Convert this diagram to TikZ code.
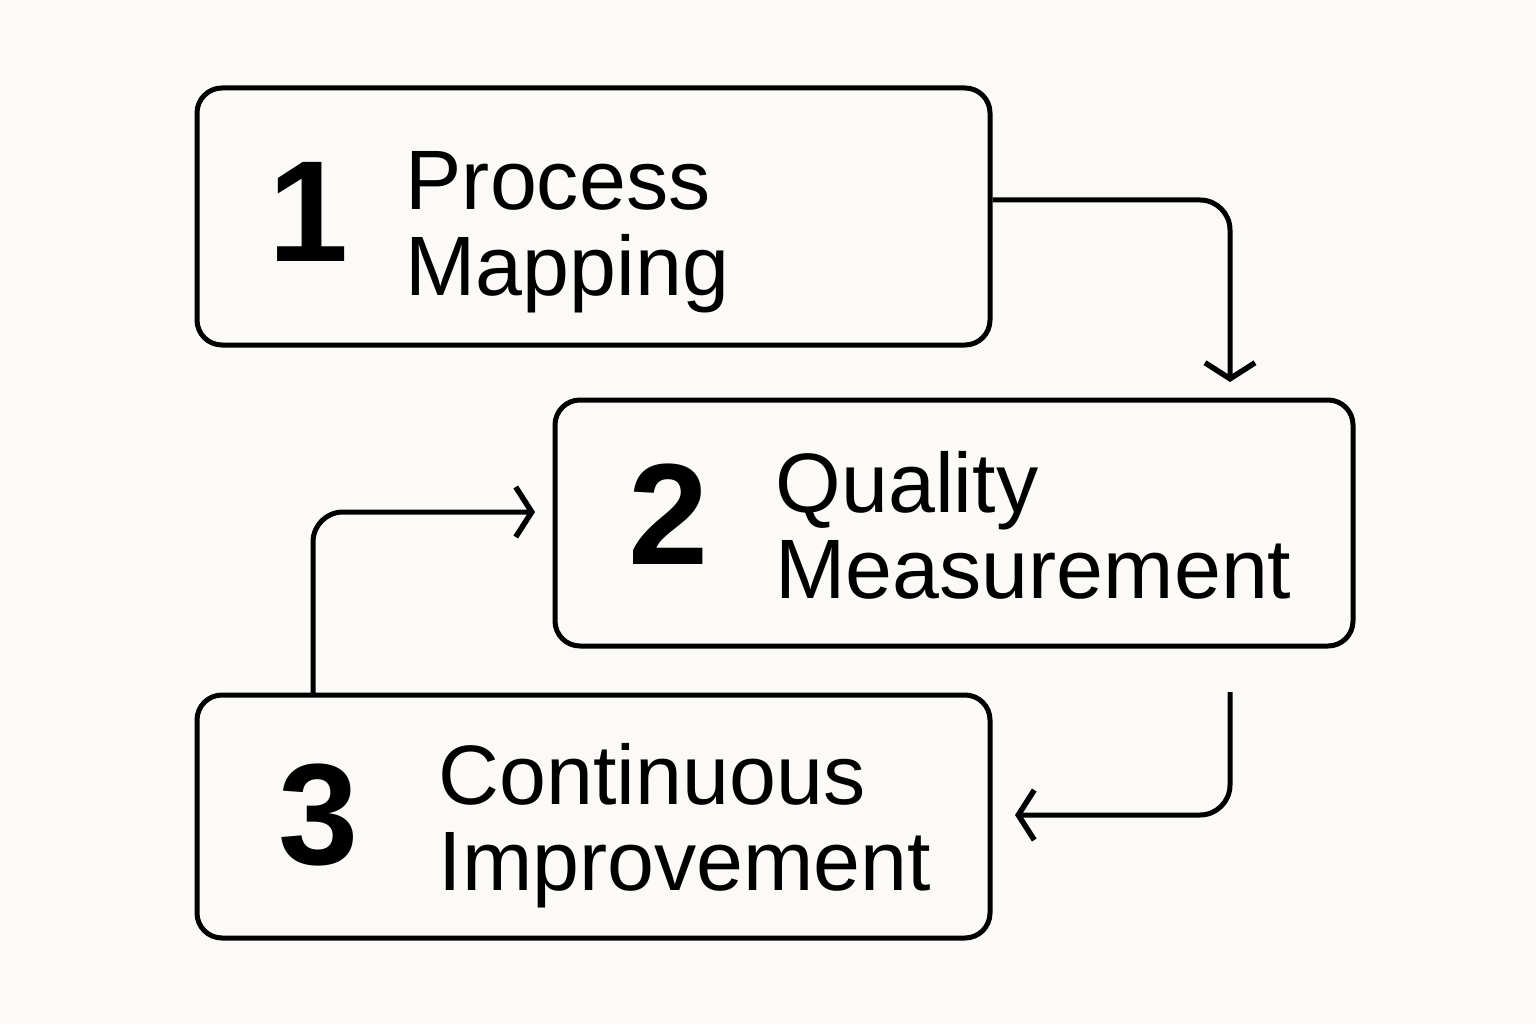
\documentclass[tikz,border=0pt]{standalone}
\usepackage{fontspec}
\setmainfont{Liberation Sans}
\usetikzlibrary{arrows.meta}
\definecolor{paper}{HTML}{FBFAF6}
\tikzset{stagebox/.style={draw=black,line width=0.05cm,rounded corners=0.25cm,inner sep=0pt},
  stagenum/.style={anchor=base west,inner sep=0pt,font=\fontsize{41}{44}\selectfont\bfseries},
  stagelabel/.style={anchor=base west,inner sep=0pt,align=left,font=\fontsize{24}{24.2}\selectfont},
  flow/.style={line width=0.05cm,rounded corners=0.3cm,-{Straight Barb[length=0.16cm,width=0.5cm,line width=0.055cm]}}}
\begin{document}
\begin{tikzpicture}
\fill[paper] (0,0) rectangle (15.36,10.24);
\useasboundingbox (0,0) rectangle (15.36,10.24);
% stages
\node[stagebox,minimum width=7.93cm,minimum height=2.57cm] (mapping) at (5.935,8.075) {};
\node[stagebox,minimum width=7.98cm,minimum height=2.46cm] (measure) at (9.54,5.01) {};
\node[stagebox,minimum width=7.93cm,minimum height=2.43cm] (improve) at (5.935,2.075) {};
\node[stagenum] (num1) at (2.68,7.62) {1};
\node[stagenum] (num2) at (6.28,4.6) {2};
\node[stagenum] (num3) at (2.78,1.6) {3};
\node[stagelabel] (lab1) at (4.05,7.29) {Process\\Mapping};
\node[stagelabel] (lab2) at (7.75,4.26) {Quality\\Measurement};
\node[stagelabel] (lab3) at (4.38,1.34) {Continuous\\Improvement};
% connectors
\coordinate (in2) at (12.3,6.42);
\coordinate (out2) at (12.3,3.32);
\coordinate (in3) at (10.15,2.09);
\coordinate (in2w) at (5.35,5.12);
\coordinate (up3) at (3.13,3.29);
\draw[flow] ([yshift=0.165cm]mapping.east) -| (in2);
\draw[flow] (out2) |- (in3);
\draw[flow] (up3) |- (in2w);
\end{tikzpicture}
\end{document}
